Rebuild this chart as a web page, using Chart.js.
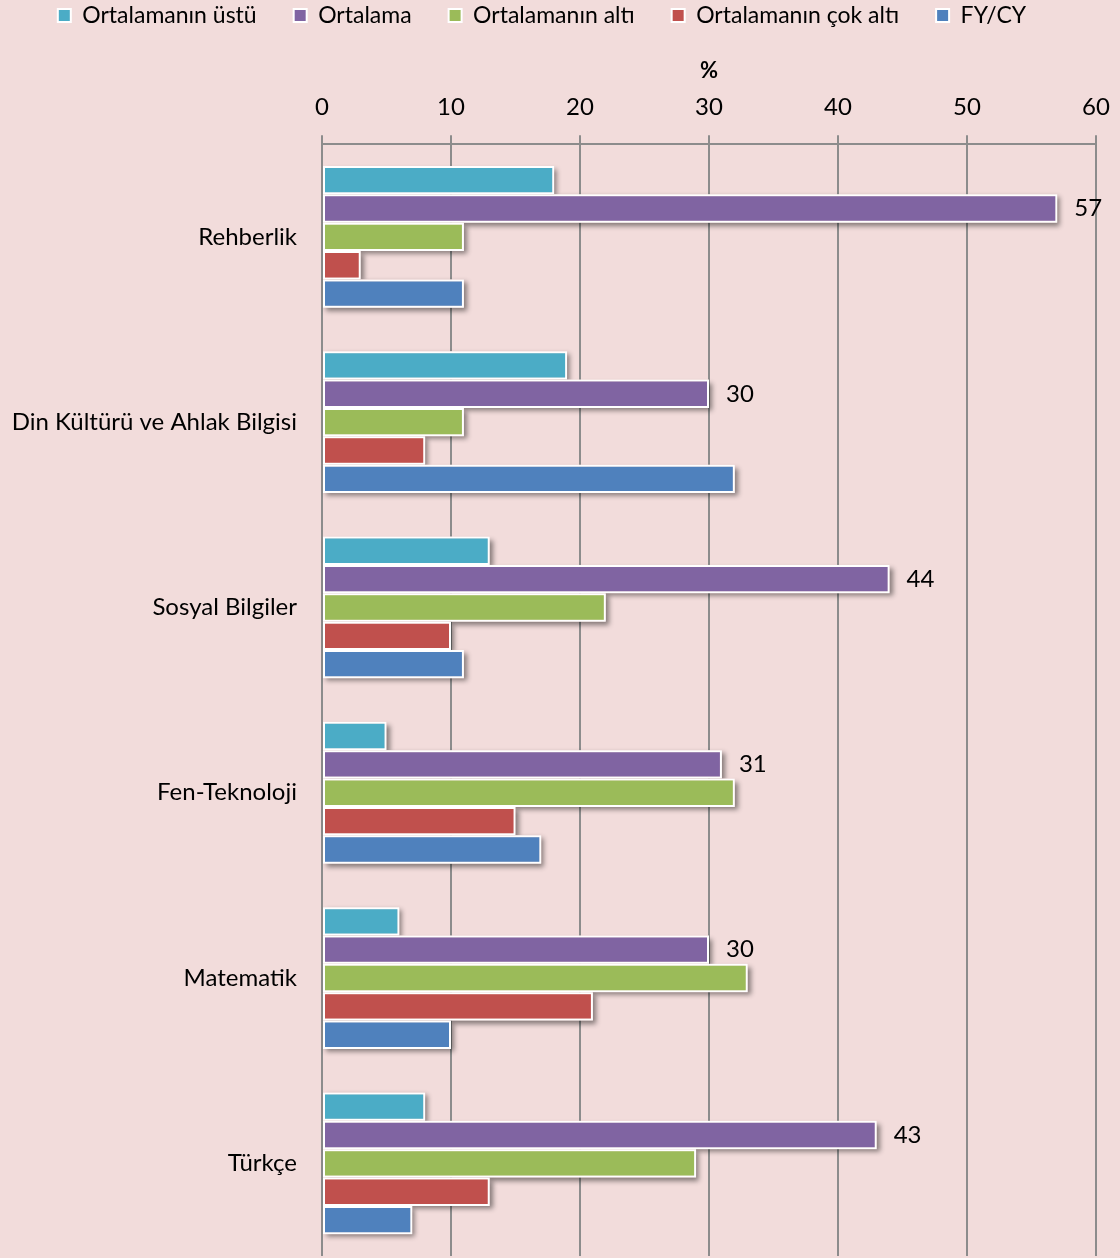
<!DOCTYPE html>
<html>
<head>
<meta charset="utf-8">
<script src="https://cdn.jsdelivr.net/npm/chart.js@4.4.1/dist/chart.umd.min.js"></script>
<style>
  html, body { margin: 0; padding: 0; background: #F2DCDB; }
  #wrap { width: 1120px; height: 1258px; }
</style>
</head>
<body>
<div id="wrap"><canvas id="chart"></canvas></div>
<script>
const categories = ['Rehberlik', 'Din Kültürü ve Ahlak Bilgisi', 'Sosyal Bilgiler', 'Fen-Teknoloji', 'Matematik', 'Türkçe'];
const seriesNames = ['Ortalamanın üstü', 'Ortalama', 'Ortalamanın altı', 'Ortalamanın çok altı', 'FY/CY'];
const aboveAvg = [18, 19, 13, 5, 6, 8];
const average = [57, 30, 44, 31, 30, 43];
const belowAvg = [11, 11, 22, 32, 33, 29];
const farBelowAvg = [3, 8, 10, 15, 21, 13];
const fyCy = [11, 32, 11, 17, 10, 7];
const xTicks = [0, 10, 20, 30, 40, 50, 60];

const colors = ['#4BACC6', '#8064A2', '#9BBB59', '#C0504D', '#4F81BD'];
const values = [aboveAvg, average, belowAvg, farBelowAvg, fyCy];
const FONT = 'Lato';

// soft drop shadow behind each bar, drawn before the bars
const barShadow = {
  id: 'barShadow',
  beforeDatasetsDraw(chart) {
    const ctx = chart.ctx;
    ctx.save();
    ctx.shadowColor = 'rgba(0,0,0,0.45)';
    ctx.shadowBlur = 5;
    ctx.shadowOffsetX = 3;
    ctx.shadowOffsetY = 3;
    ctx.fillStyle = '#F2DCDB';
    chart.data.datasets.forEach((ds, i) => {
      chart.getDatasetMeta(i).data.forEach(bar => {
        const { x, y, base, height } = bar.getProps(['x', 'y', 'base', 'height'], true);
        ctx.fillRect(base, y - height / 2, x - base, height);
      });
    });
    ctx.restore();
  }
};

// value labels for the "Ortalama" series only
const avgLabels = {
  id: 'avgLabels',
  afterDatasetsDraw(chart) {
    const ctx = chart.ctx;
    ctx.save();
    ctx.font = `24px ${FONT}`;
    ctx.fillStyle = '#000';
    ctx.textBaseline = 'middle';
    chart.getDatasetMeta(1).data.forEach((bar, j) => {
      ctx.fillText(String(average[j]), bar.x + 17, bar.y);
    });
    ctx.restore();
  }
};

// nudge the legend a little left, like the original
const legendShift = {
  id: 'legendShift',
  afterLayout(chart) {
    chart.legend.left -= 6;
    chart.legend.right -= 6;
  }
};

new Chart(document.getElementById('chart'), {
  type: 'bar',
  data: {
    labels: categories,
    datasets: seriesNames.map((name, i) => ({
      label: name,
      data: values[i],
      backgroundColor: colors[i],
      borderColor: '#fff',
      borderWidth: 2,
      borderSkipped: false,
      categoryPercentage: 0.765,
      barPercentage: 1,
    })),
  },
  options: {
    indexAxis: 'y',
    responsive: true,
    maintainAspectRatio: false,
    animation: false,
    layout: { padding: { top: -33, right: 24, bottom: 2, left: 0 } },
    scales: {
      x: {
        position: 'top',
        min: 0,
        max: 60,
        afterBuildTicks: (axis) => { axis.ticks = xTicks.map(v => ({ value: v })); },
        afterFit: (scale) => { scale.paddingLeft = 0; scale.paddingRight = 0; },
        ticks: { font: { family: FONT, size: 24 }, color: '#000', padding: 14 },
        grid: { color: '#8C8C8C', lineWidth: 2, tickLength: 9 },
        border: { color: '#8C8C8C', width: 2 },
        title: { display: true, text: '%', font: { family: FONT, size: 22, weight: 'bold' }, color: '#000', padding: { top: 21, bottom: -6 } },
      },
      y: {
        ticks: { font: { family: FONT, size: 24 }, color: '#000', padding: 17 },
        grid: { display: false },
        border: { display: false },
        afterFit: (scale) => { scale.width = 322; scale.paddingTop = 0; scale.paddingBottom = 0; },
      },
    },
    plugins: {
      legend: {
        position: 'top',
        labels: { font: { family: FONT, size: 23 }, color: '#000', boxWidth: 13, boxHeight: 13, padding: 37 },
      },
      tooltip: { enabled: false },
    },
  },
  plugins: [barShadow, avgLabels, legendShift],
});
</script>
</body>
</html>
